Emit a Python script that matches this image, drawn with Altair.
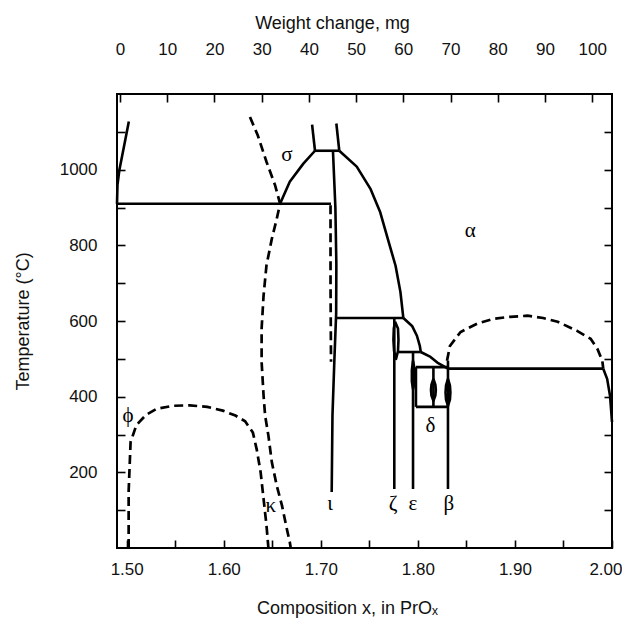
import json
import altair as alt
import pandas as pd

# ---------------- axis ticks / labels ----------------
x_ticks = [1.50, 1.55, 1.60, 1.65, 1.70, 1.75, 1.80, 1.85, 1.90, 1.95, 2.00]
x_labels = ["1.50", "1.60", "1.70", "1.80", "1.90", "2.00"]
y_ticks = [100, 200, 300, 400, 500, 600, 700, 800, 900, 1000, 1100]
y_labels = ["200", "400", "600", "800", "1000"]
w_ticks = [0, 10, 20, 30, 40, 50, 60, 70, 80, 90, 100]

# ---------------- solid phase boundaries (x = composition, T = deg C) ----------------
left_edge = [(1.4900, 910), (1.4905, 960), (1.4925, 1000), (1.4975, 1065), (1.5022, 1127)]
line_910 = [(1.4900, 910), (1.7105, 910)]
sigma_curve = [(1.658, 910), (1.668, 968), (1.682, 1016), (1.694, 1050)]
top_flat = [(1.694, 1050), (1.719, 1050)]
stub_left = [(1.691, 1119), (1.694, 1050)]
stub_right = [(1.716, 1122), (1.719, 1050)]
alpha_dome = [(1.719, 1050), (1.737, 1008), (1.751, 950), (1.761, 889), (1.769, 817),
              (1.777, 746), (1.782, 677), (1.785, 608)]
iota_solid = [(1.7125, 1050), (1.7150, 900), (1.7160, 750), (1.7158, 620), (1.7140, 500),
              (1.7120, 350), (1.7112, 148)]
line_608 = [(1.716, 608), (1.785, 608)]
curve_608_518 = [(1.785, 608), (1.794, 587), (1.799, 561), (1.802, 534), (1.803, 518)]
line_518 = [(1.780, 518), (1.803, 518)]
curve_518_474 = [(1.803, 518), (1.813, 505), (1.820, 490), (1.831, 474)]
zeta_line = [(1.7757, 608), (1.7757, 156)]
zeta_lens = [(1.7765, 598), (1.7795, 580), (1.7800, 550), (1.7795, 520), (1.7775, 500),
             (1.7755, 520), (1.7748, 550), (1.7752, 580), (1.7765, 598)]
eps_line = [(1.795, 518), (1.795, 156)]
eps_lens = [(1.795, 495), (1.7968, 470), (1.7968, 440), (1.795, 420), (1.7938, 440),
            (1.7938, 470), (1.795, 495)]
box_top = [(1.798, 478), (1.831, 478)]
box_left = [(1.798, 478), (1.798, 373)]
box_bottom = [(1.798, 373), (1.831, 373)]
delta_mid = [(1.816, 478), (1.816, 373)]
delta_lens = [(1.816, 447), (1.818, 432), (1.8185, 418), (1.818, 403), (1.816, 389),
              (1.814, 403), (1.8135, 418), (1.814, 432), (1.816, 447)]
beta_line = [(1.831, 495), (1.831, 156)]
beta_lens = [(1.831, 447), (1.833, 430), (1.8335, 411), (1.833, 392), (1.831, 376),
             (1.829, 392), (1.8285, 411), (1.829, 430), (1.831, 447)]
line_474 = [(1.831, 474), (1.991, 474)]
right_curve = [(1.991, 474), (1.995, 447), (1.998, 402), (2.000, 333)]

# ---------------- dashed boundaries ----------------
phi_dome = [(1.502, 0), (1.502, 150), (1.504, 280), (1.510, 325), (1.520, 352), (1.531, 368),
            (1.548, 376), (1.565, 377), (1.583, 373), (1.599, 363), (1.612, 350), (1.622, 335),
            (1.630, 305), (1.634, 260), (1.638, 200), (1.641, 130), (1.644, 60), (1.646, 0)]
kappa_line = [(1.627, 1139), (1.635, 1091), (1.644, 1021), (1.653, 958), (1.658, 910),
              (1.6546, 870), (1.6495, 817), (1.644, 747), (1.641, 667), (1.639, 580),
              (1.639, 492), (1.641, 403), (1.6426, 350), (1.646, 297), (1.6495, 227),
              (1.6546, 165), (1.660, 112), (1.665, 50), (1.668, 16), (1.669, 0)]
iota_dashed = [(1.7100, 906), (1.7100, 700), (1.7105, 492)]
beta_dome = [(1.830, 495), (1.833, 534), (1.844, 571), (1.861, 593), (1.878, 606), (1.895, 611),
             (1.913, 614), (1.929, 608), (1.944, 598), (1.964, 574), (1.978, 553), (1.985, 526),
             (1.990, 495), (1.991, 474)]

# ---------------- phase labels ----------------
phase_text = ["σ", "α", "ϕ", "δ", "κ", "ι", "ζ", "ε", "β"]
phase_x = [1.665, 1.854, 1.5013, 1.813, 1.6485, 1.7096, 1.7745, 1.795, 1.832]
phase_t = [1040, 839, 349, 323, 112, 115, 115, 115, 115]

solid_segments = {
    "left_edge": left_edge, "line_910": line_910, "sigma_curve": sigma_curve,
    "top_flat": top_flat, "stub_left": stub_left, "stub_right": stub_right,
    "alpha_dome": alpha_dome, "iota_solid": iota_solid, "line_608": line_608,
    "curve_608_518": curve_608_518, "line_518": line_518, "curve_518_474": curve_518_474,
    "zeta_line": zeta_line, "zeta_lens": zeta_lens, "eps_line": eps_line, "eps_lens": eps_lens,
    "box_top": box_top, "box_left": box_left, "box_bottom": box_bottom,
    "delta_mid": delta_mid, "delta_lens": delta_lens, "beta_line": beta_line,
    "beta_lens": beta_lens, "line_474": line_474, "right_curve": right_curve,
}
dashed_segments = {
    "phi_dome": phi_dome, "kappa_line": kappa_line,
    "iota_dashed": iota_dashed, "beta_dome": beta_dome,
}


def to_frame(segs):
    rows = []
    for name, pts in segs.items():
        for i, (x, t) in enumerate(pts):
            rows.append({"seg": name, "i": i, "x": x, "T": t})
    return pd.DataFrame(rows)


solid_df = to_frame(solid_segments)
dashed_df = to_frame(dashed_segments)
label_df = pd.DataFrame({"txt": phase_text, "x": phase_x, "T": phase_t})
weight_df = pd.DataFrame({"w": [w_ticks[0], w_ticks[-1]], "T": [y_ticks[0], y_ticks[-1]]})

FONT = "Liberation Sans"
GREEK = "Liberation Serif"

x_scale = alt.Scale(domain=[1.49, 2.00], nice=False, zero=False)
y_scale = alt.Scale(domain=[0, 1200], nice=False, zero=False)
w_scale = alt.Scale(domain=[-0.64, 104.2], nice=False, zero=False)

common = dict(domain=False, grid=False, tickSize=8, offset=-8, tickColor="black",
              tickWidth=1.6, labelFont=FONT, labelFontSize=17, labelColor="#111111",
              labelOverlap=False, titleFont=FONT, titleFontSize=18,
              titleFontWeight="normal", titleColor="#111111")

x_axis = alt.Axis(
    orient="bottom", values=x_ticks,
    labelExpr=f"indexof({json.dumps(x_labels)}, format(datum.value, '.2f')) >= 0 ? format(datum.value, '.2f') : ''",
    labelPadding=13, labelFlush=True, labelFlushOffset=10,
    title="Composition x, in PrOₓ", titlePadding=22, titleX=230, **common)
y_axis = alt.Axis(
    orient="left", values=y_ticks,
    labelExpr=f"indexof({json.dumps(y_labels)}, format(datum.value, 'd')) >= 0 ? format(datum.value, 'd') : ''",
    labelPadding=20, title="Temperature (°C)", titlePadding=27, **common)
w_axis = alt.Axis(orient="top", values=w_ticks, format="d", labelPadding=36,
                  title="Weight change, mg", titlePadding=8, titleX=215, **common)
r_axis = alt.Axis(orient="right", values=y_ticks, labels=False, title=None, **common)

X = alt.X("x:Q", scale=x_scale, axis=x_axis)
Y = alt.Y("T:Q", scale=y_scale, axis=y_axis)

solid = alt.Chart(solid_df).mark_line(color="black", strokeWidth=2.6, strokeJoin="round").encode(
    x=X, y=Y, detail="seg:N", order="i:Q")
dashed = alt.Chart(dashed_df).mark_line(color="black", strokeWidth=2.7, strokeDash=[9, 5]).encode(
    x=X, y=Y, detail="seg:N", order="i:Q")
labels = alt.Chart(label_df).mark_text(font=GREEK, fontSize=21, color="black",
                                       align="center", baseline="middle").encode(
    x=X, y=Y, text="txt:N")

inner = alt.layer(solid, dashed, labels)

outer_axes = alt.Chart(weight_df).mark_point(opacity=0).encode(
    x=alt.X("w:Q", scale=w_scale, axis=w_axis),
    y=alt.Y("T:Q", scale=y_scale, axis=r_axis),
)

chart = alt.layer(inner, outer_axes).resolve_scale(
    x="independent", y="independent"
).properties(
    width=495, height=454,
    autosize=alt.AutoSizeParams(type="none"),
    padding={"left": 109, "top": 86, "right": 10, "bottom": 72},
    background="white",
).configure_view(stroke="black", strokeWidth=2)

chart.save("out.html", embed_options={"renderer": "svg", "actions": False})
